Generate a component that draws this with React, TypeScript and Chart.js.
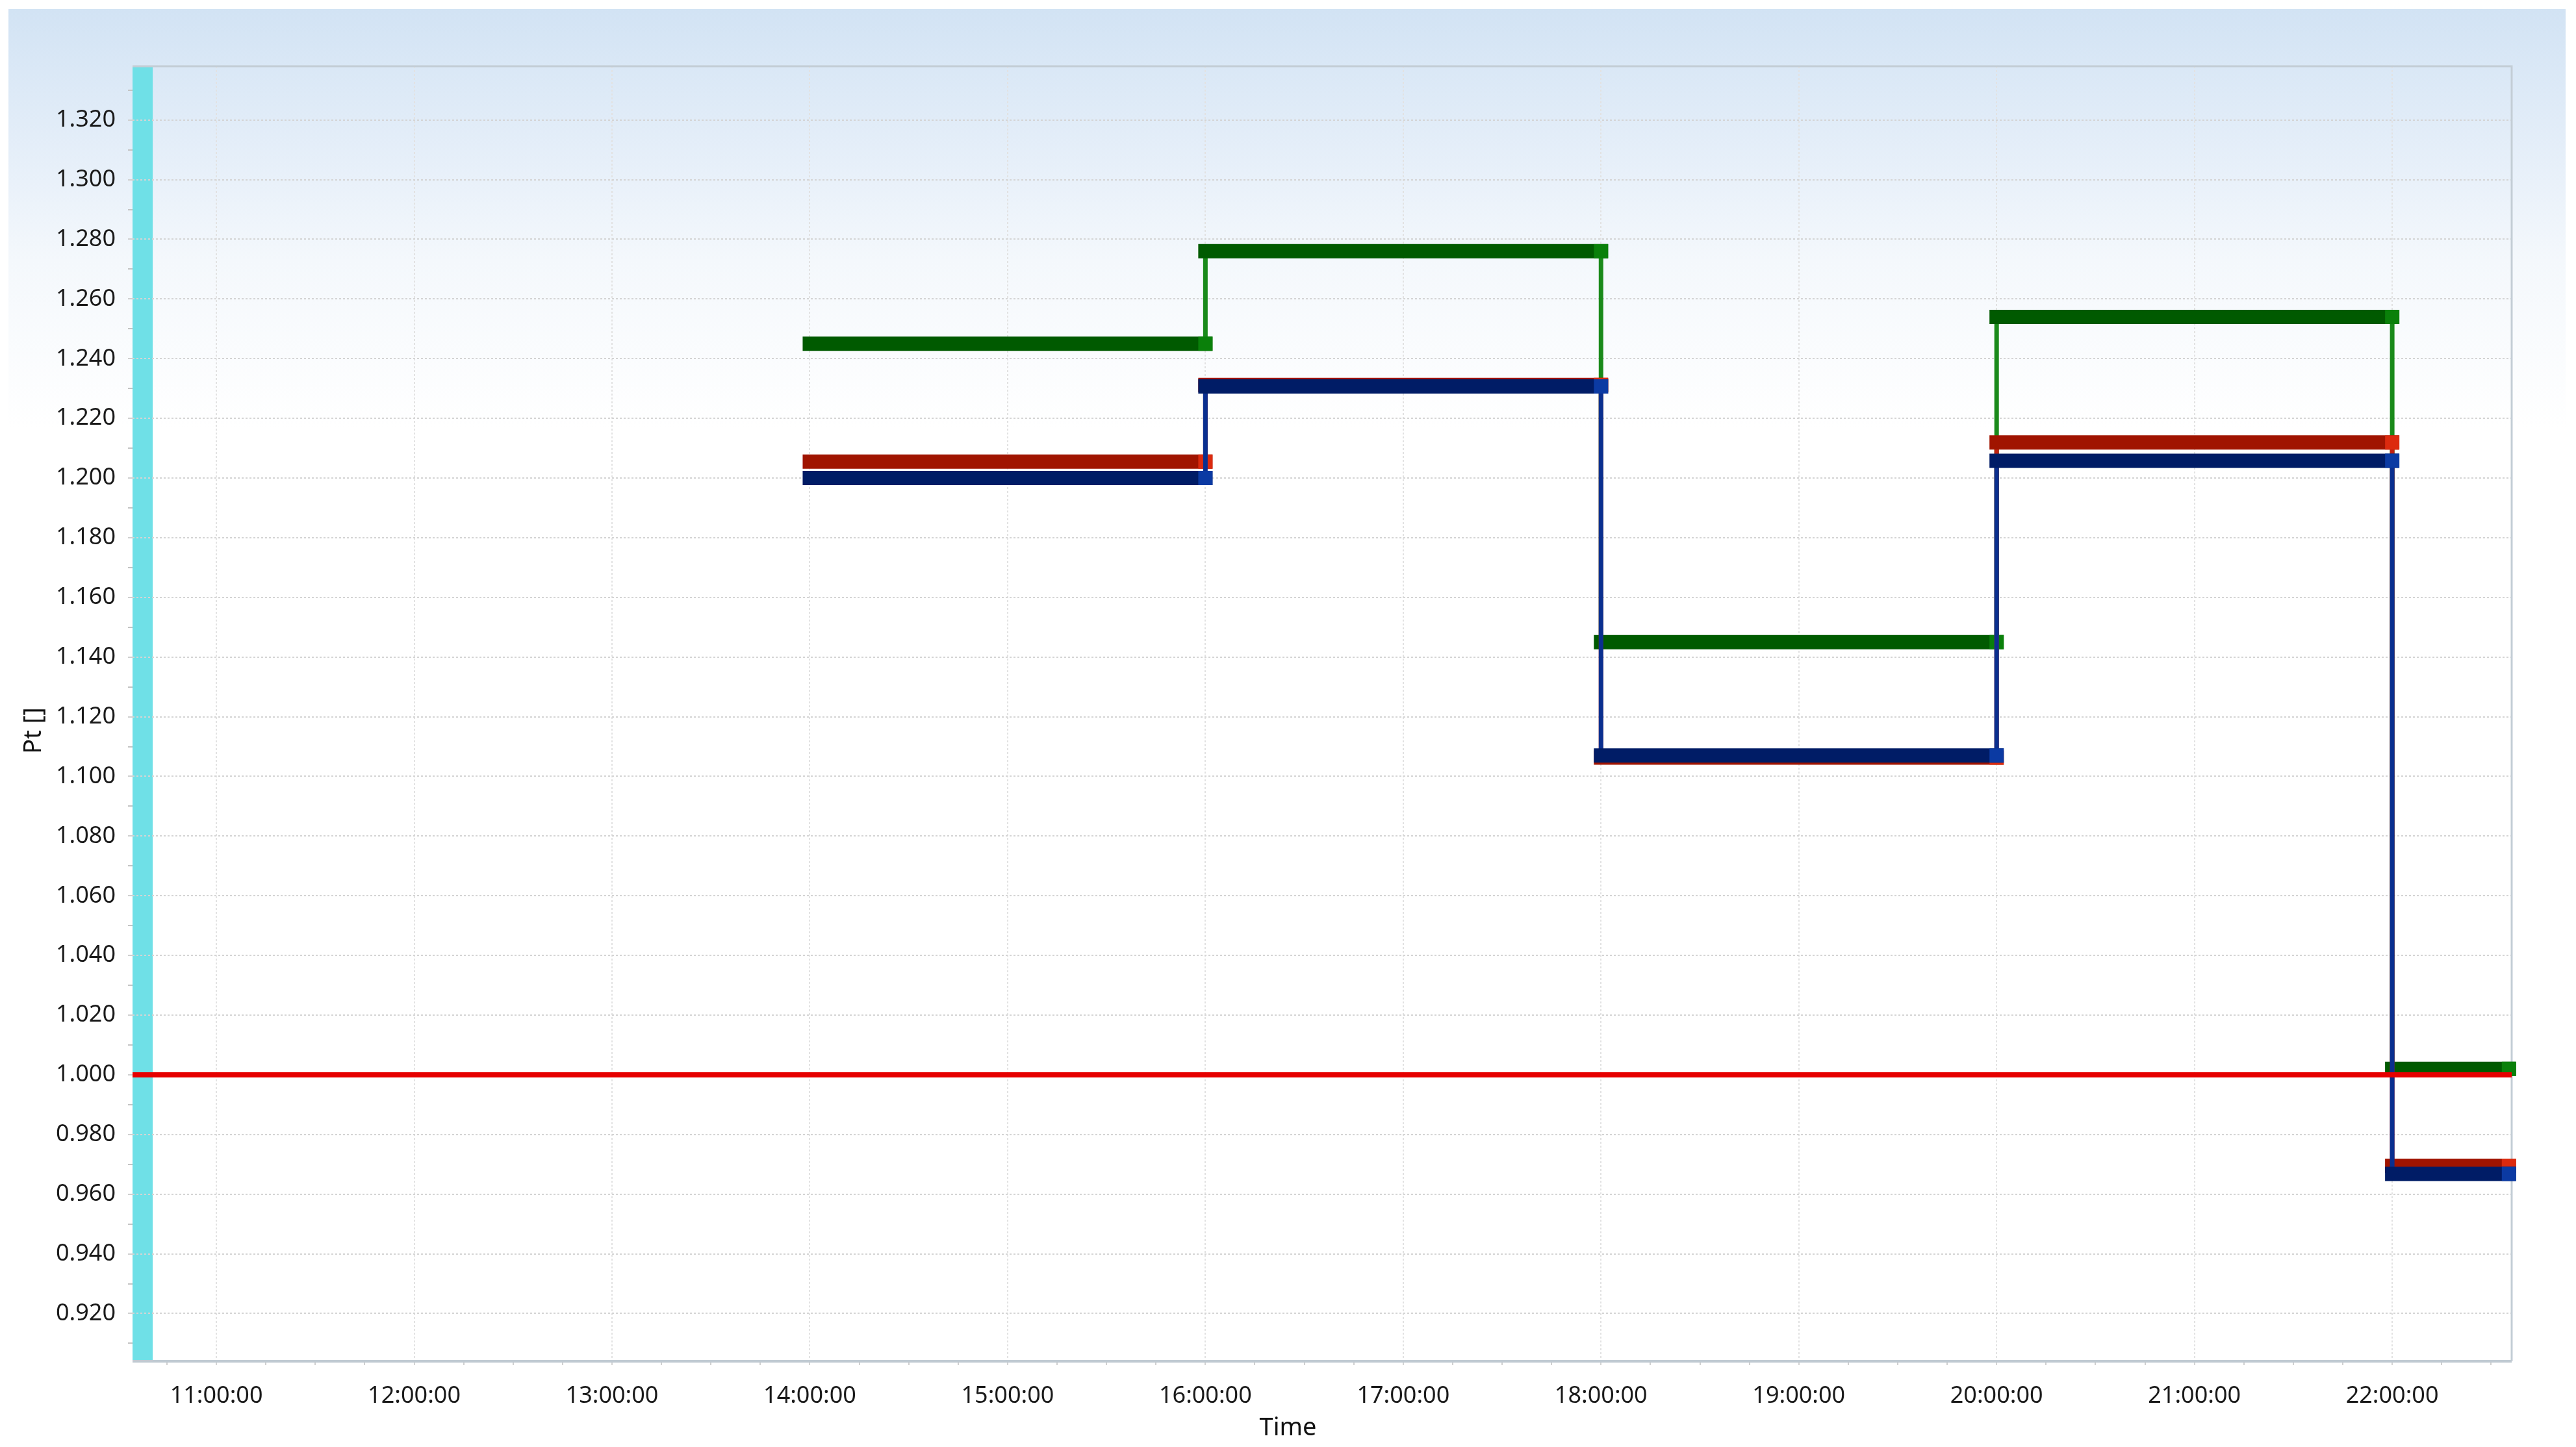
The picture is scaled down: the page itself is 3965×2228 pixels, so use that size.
import React, { useEffect, useRef } from "react";
import { Chart, registerables } from "chart.js";

Chart.register(...registerables);

// ---------------- data ----------------
const stepStartHours = [14, 16, 18, 20, 22];
const lastStepEndHour = 22.59;
const greenValues = [1.245, 1.276, 1.145, 1.254, 1.002];
const redValues = [1.2055, 1.2312, 1.1063, 1.2119, 0.9695];
const blueValues = [1.2, 1.2307, 1.107, 1.2058, 0.9668];
const referenceValue = 1.0;
const highlightBand = [10.576, 10.678];
const xRange = [10.576, 22.604];
const yRange = [0.904, 1.338];
const xTickHours = [11, 12, 13, 14, 15, 16, 17, 18, 19, 20, 21, 22];
const xTickLabels = [
  "11:00:00", "12:00:00", "13:00:00", "14:00:00", "15:00:00", "16:00:00",
  "17:00:00", "18:00:00", "19:00:00", "20:00:00", "21:00:00", "22:00:00",
];
const yTickLabels = [
  "0.920", "0.940", "0.960", "0.980", "1.000", "1.020", "1.040", "1.060",
  "1.080", "1.100", "1.120", "1.140", "1.160", "1.180", "1.200", "1.220",
  "1.240", "1.260", "1.280", "1.300", "1.320",
];
const xTitle = "Time";
const yTitle = "Pt []";

// ---------------- helpers ----------------
const W = 3965;
const H = 2228;
const FONT = "'Noto Sans', 'Open Sans', sans-serif";

const yTickValues = yTickLabels.map(Number);
const yAllTicks: number[] = [];
yTickValues.forEach((v) => {
  yAllTicks.push(v - 0.01, v);
});
yAllTicks.push(yTickValues[yTickValues.length - 1] + 0.01);

const xAllTicks: number[] = [];
for (let t = xTickHours[0] - 0.25; t <= xRange[1] + 1e-9; t += 0.25) xAllTicks.push(t);

const near = (a: number, b: number) => Math.abs(a - b) < 1e-6;
const isMajorY = (v: number) => yTickValues.some((t) => near(t, v));
const isMajorX = (v: number) => xTickHours.some((t) => near(t, v));

function stepPoints(values: number[]) {
  const pts: { x: number; y: number }[] = [];
  values.forEach((v, i) => {
    const start = stepStartHours[i];
    const end = i + 1 < stepStartHours.length ? stepStartHours[i + 1] : lastStepEndHour;
    pts.push({ x: start, y: v }, { x: end, y: v });
  });
  return pts;
}

function stepDataset(label: string, values: number[], color: string, connector: string, marker: string) {
  const vertical = (ctx: any) => ctx.p0.parsed.x === ctx.p1.parsed.x;
  return {
    label,
    data: stepPoints(values),
    borderColor: color,
    borderWidth: 22,
    borderCapStyle: "square",
    borderJoinStyle: "miter",
    fill: false,
    tension: 0,
    clip: false,
    yAxisID: "y",
    pointStyle: "rect",
    pointRadius: (ctx: any) => (ctx.dataIndex % 2 === 1 ? 15.5 : 0),
    pointHoverRadius: (ctx: any) => (ctx.dataIndex % 2 === 1 ? 15.5 : 0),
    pointBackgroundColor: marker,
    pointBorderWidth: 0,
    segment: {
      borderWidth: (ctx: any) => (vertical(ctx) ? 7 : 22),
      borderColor: (ctx: any) => (vertical(ctx) ? connector : color),
    },
  };
}

const backgroundPlugin = {
  id: "panelBackground",
  beforeDraw(chart: any) {
    const { ctx, chartArea, scales } = chart;
    ctx.save();
    ctx.fillStyle = "#ffffff";
    ctx.fillRect(0, 0, chart.width, chart.height);
    const g = ctx.createLinearGradient(0, 14, 0, 660);
    g.addColorStop(0, "#d2e3f4");
    g.addColorStop(0.36, "#e6eff9");
    g.addColorStop(0.6, "#f4f8fc");
    g.addColorStop(1, "#ffffff");
    ctx.fillStyle = g;
    ctx.fillRect(13, 14, 3936, chart.height - 14);
    const x0 = scales.x.getPixelForValue(highlightBand[0]);
    const x1 = scales.x.getPixelForValue(highlightBand[1]);
    ctx.fillStyle = "#6fe0e7";
    ctx.fillRect(x0, chartArea.top, x1 - x0, chartArea.bottom - chartArea.top);
    ctx.restore();
  },
};

const framePlugin = {
  id: "plotFrame",
  beforeDatasetsDraw(chart: any) {
    const { ctx, chartArea } = chart;
    const { left, right, top, bottom } = chartArea;
    ctx.save();
    ctx.strokeStyle = "#c3cdd5";
    ctx.lineWidth = 3;
    ctx.beginPath();
    ctx.moveTo(left, top);
    ctx.lineTo(right, top);
    ctx.lineTo(right, bottom);
    ctx.stroke();
    ctx.lineWidth = 4;
    ctx.strokeStyle = "#c0cad2";
    ctx.beginPath();
    ctx.moveTo(left, bottom);
    ctx.lineTo(right, bottom);
    ctx.stroke();
    ctx.restore();
  },
};

// y-axis title, drawn a little below the plot's vertical centre as in the reference
const yTitlePlugin = {
  id: "yAxisTitle",
  afterDraw(chart: any) {
    const { ctx, chartArea } = chart;
    ctx.save();
    ctx.translate(52, (chartArea.top + chartArea.bottom) / 2 + 26);
    ctx.rotate(-Math.PI / 2);
    ctx.fillStyle = "#111111";
    ctx.font = `38px ${FONT}`;
    ctx.textAlign = "center";
    ctx.textBaseline = "middle";
    ctx.fillText(yTitle, 0, 0);
    ctx.restore();
  },
};

export default function App() {
  const ref = useRef<HTMLCanvasElement>(null);

  useEffect(() => {
    if (!ref.current) return;
    Chart.defaults.font.family = FONT;
    const chart = new Chart(ref.current, {
      type: "line",
      data: {
        datasets: [
          {
            label: "Reference",
            data: [
              { x: xRange[0], y: referenceValue },
              { x: xRange[1], y: referenceValue },
            ],
            borderColor: "#e60000",
            borderWidth: 8,
            pointRadius: 0,
            pointHoverRadius: 0,
            fill: false,
            tension: 0,
            yAxisID: "y",
          } as any,
          stepDataset("Blue", blueValues, "#001c66", "#0a2f8f", "#0b3aa3"),
          stepDataset("Red", redValues, "#a01400", "#c02010", "#dc2a0e"),
          stepDataset("Green", greenValues, "#005a00", "#1a8a1a", "#0a800a"),
        ],
      },
      options: {
        responsive: false,
        maintainAspectRatio: false,
        devicePixelRatio: 1,
        animation: false,
        events: [],
        layout: { padding: { top: 102, right: 0, left: 0, bottom: 0 } },
        plugins: {
          legend: { display: false },
          tooltip: { enabled: false },
          title: {
            display: true,
            text: xTitle,
            position: "bottom",
            color: "#111111",
            font: { family: FONT, size: 38, weight: "normal" },
            padding: { top: 2, bottom: 6 },
          },
        },
        scales: {
          x: {
            type: "linear",
            min: xRange[0],
            max: xRange[1],
            afterBuildTicks: (s: any) => {
              s.ticks = xAllTicks.map((v) => ({ value: v }));
            },
            afterFit: (s: any) => {
              s.height = 78.4;
            },
            ticks: {
              autoSkip: false,
              maxRotation: 0,
              minRotation: 0,
              padding: 26,
              color: "#1a1a1a",
              font: { family: FONT, size: 36 },
              callback: (v: any) => {
                const i = xTickHours.findIndex((t) => near(t, Number(v)));
                return i >= 0 ? xTickLabels[i] : "";
              },
            },
            grid: {
              color: "#e2e2e2",
              lineWidth: (ctx: any) => (ctx.tick && isMajorX(ctx.tick.value) ? 2 : 0),
              tickLength: 6,
              tickWidth: 2,
              tickColor: (ctx: any) => (ctx.tick && isMajorX(ctx.tick.value) ? "#d4d4d4" : "#d0d0d0"),
            },
            border: { display: false, dash: [3, 3] },
          },
          y: {
            type: "linear",
            position: "left",
            min: yRange[0],
            max: yRange[1],
            afterBuildTicks: (s: any) => {
              s.ticks = yAllTicks.map((v) => ({ value: v }));
            },
            afterFit: (s: any) => {
              s.width = 204;
            },
            ticks: {
              autoSkip: false,
              padding: 19,
              color: "#1a1a1a",
              font: { family: FONT, size: 36 },
              callback: (v: any) => {
                const i = yTickValues.findIndex((t) => near(t, Number(v)));
                return i >= 0 ? yTickLabels[i] : "";
              },
            },
            grid: {
              color: "#d4d4d4",
              lineWidth: (ctx: any) => (ctx.tick && isMajorY(ctx.tick.value) ? 2 : 0),
              tickLength: 7,
              tickWidth: 2,
              tickColor: (ctx: any) => (ctx.tick && isMajorY(ctx.tick.value) ? "#d0d0d0" : "#c4c4c4"),
            },
            border: { display: false, dash: [3, 3] },
            title: { display: false },
          },
          yRightSpace: {
            type: "linear",
            position: "right",
            display: true,
            min: yRange[0],
            max: yRange[1],
            afterFit: (s: any) => {
              s.width = 99;
            },
            ticks: { display: false },
            grid: { display: false, drawOnChartArea: false },
            border: { display: false },
          },
        },
      } as any,
      plugins: [backgroundPlugin, framePlugin, yTitlePlugin],
    } as any);
    return () => chart.destroy();
  }, []);

  return (
    <div style={{ position: "absolute", left: 0, top: 0, width: W, height: H, background: "#ffffff" }}>
      <canvas ref={ref} width={W} height={H} style={{ display: "block", width: W, height: H }} />
    </div>
  );
}
